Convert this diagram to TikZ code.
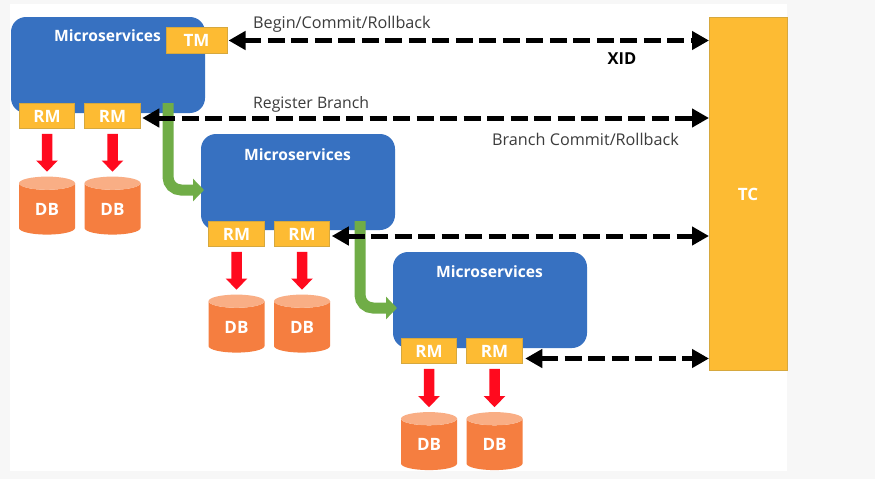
\documentclass[tikz,border=0pt]{standalone}
\usepackage{fontspec}
\setmainfont{Open Sans}
\usetikzlibrary{arrows.meta,shapes.geometric,calc}
\definecolor{blueb}{HTML}{3771C1}
\definecolor{goldb}{HTML}{FDBB33}
\definecolor{goldl}{HTML}{D6A83E}
\definecolor{orangeb}{HTML}{F57E40}
\definecolor{orangel}{HTML}{F9AE85}
\definecolor{greenb}{HTML}{70AD47}
\definecolor{redb}{HTML}{FF0A1E}
\definecolor{lab}{HTML}{3C3C3C}
\tikzset{
 x=1pt,y=-1pt,
 micro/.style={fill=blueb,draw=none,rounded corners=15pt,minimum width=194pt,minimum height=96pt,inner sep=0pt,outer sep=0pt},
 mlabel/.style={text=white,font=\bfseries\fontsize{15.6}{17}\selectfont,inner sep=0pt},
 gold/.style={fill=goldb,draw=goldl,line width=0.6pt,text=white,font=\bfseries\fontsize{17}{19}\selectfont,minimum width=55.5pt,minimum height=25.5pt,inner sep=0pt,outer sep=0pt},
 dbcyl/.style={cylinder,shape border rotate=90,aspect=0.55,draw=none,minimum width=56pt,minimum height=58pt,inner sep=0pt,outer sep=0pt,
   cylinder uses custom fill,cylinder body fill=orangeb,cylinder end fill=orangel,text=white,font=\bfseries\fontsize{17}{19}\selectfont},
 dblink/.style={draw=black,line width=5pt,dash pattern=on 17pt off 6.5pt,{Triangle[length=17pt,width=18pt]}-{Triangle[length=17pt,width=18pt]}},
 redarrow/.style={draw=redb,line width=10.5pt,-{Triangle[length=11pt,width=21pt]},shorten <=5pt,shorten >=5pt},
 greenarrow/.style={draw=greenb,line width=11pt,rounded corners=13pt,-{Triangle[length=11pt,width=22pt]}},
 txt/.style={text=lab,font=\fontsize{16.2}{18}\selectfont,inner sep=0pt},
}
\begin{document}
\begin{tikzpicture}
\useasboundingbox (0,0) rectangle (875,479);
\fill[black!3] (0,0) rectangle (875,479);
\fill[white] (10,4) rectangle (787,471);
% services
\node[micro] (ma) at (108,65) {};
\node[micro] (mb) at (298,182) {};
\node[micro] (mc) at (490,300) {};
\node[mlabel] (la) at (107.5,36) {Microservices};
\node[mlabel] (lb) at (297.5,155) {Microservices};
\node[mlabel] (lc) at (489.5,272) {Microservices};
% TC
\node[fill=goldb,draw=goldl,line width=0.6pt,minimum width=78pt,minimum height=353pt,inner sep=0pt,outer sep=0pt] (tc) at (748,193.5) {};
\node[text=white,font=\bfseries\fontsize{17}{19}\selectfont,inner sep=0pt] (tcl) at (748,194) {TC};
% TM RM
\node[gold,minimum width=61pt] (tm) at (196.5,40.5) {TM};
\node[gold] (ra1) at (47,116) {RM};
\node[gold] (ra2) at (112.5,116) {RM};
\node[gold] (rb1) at (236.5,234) {RM};
\node[gold] (rb2) at (302,234) {RM};
\node[gold] (rc1) at (429,351) {RM};
\node[gold] (rc2) at (494.5,351) {RM};
% DB
\node[dbcyl] (da1) at (47,209) {DB};
\node[dbcyl] (da2) at (112.5,209) {DB};
\node[dbcyl] (db1) at (236.5,327) {DB};
\node[dbcyl] (db2) at (302,327) {DB};
\node[dbcyl] (dc1) at (429,444.5) {DB};
\node[dbcyl] (dc2) at (494.5,444.5) {DB};
% red arrows
\foreach \a/\b in {ra1/da1,ra2/da2,rb1/db1,rb2/db2,rc1/dc1,rc2/dc2}{
  \draw[redarrow] (\a.south) -- (\b.north);
}
% green
\coordinate (gs1) at (168,103);
\coordinate (ge1) at (204,190);
\coordinate (gs2) at (360,221);
\coordinate (ge2) at (397,308);
\draw[greenarrow] (gs1) |- (ge1);
\draw[greenarrow] (gs2) |- (ge2);
% dashed
\draw[dblink] ([xshift=1.5pt]tm.east) -- (tm.east -| tc.west);
\draw[dblink] ([xshift=2pt,yshift=-2pt]ra2.east) -- ([yshift=-2pt]ra2.east -| tc.west);
\draw[dblink] ([xshift=2pt,yshift=-2pt]rb2.east) -- ([yshift=-2pt]rb2.east -| tc.west);
\draw[dblink] ([xshift=3pt,yshift=-7.5pt]rc2.east) -- ([yshift=-7.5pt]rc2.east -| tc.west);
% labels
\node[txt,anchor=west] (t1) at (253,24) {Begin/Commit/Rollback};
\node[text=black,font=\bfseries\fontsize{16.5}{18}\selectfont,inner sep=0pt] (t2) at (622,59) {XID};
\node[txt,anchor=west,font=\fontsize{15.8}{18}\selectfont] (t3) at (253,104) {Register Branch};
\node[txt,anchor=west] (t4) at (492,139.5) {Branch Commit/Rollback};
\end{tikzpicture}
\end{document}
